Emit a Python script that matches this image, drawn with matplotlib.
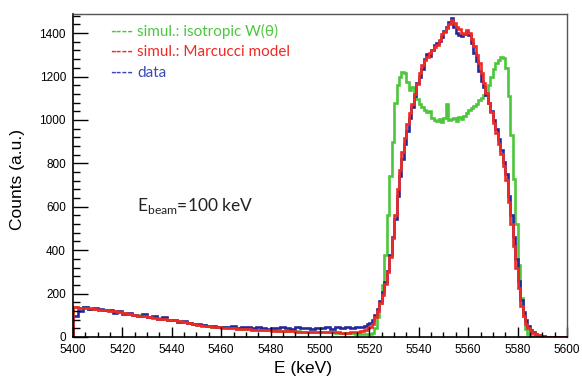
import numpy as np
import matplotlib
matplotlib.use('Agg')
import matplotlib.pyplot as plt
from matplotlib.ticker import MultipleLocator

# bin edges: 2 keV in the tail, 1 keV across the peak, 2 keV after it
edges = np.concatenate([np.arange(5400, 5516, 2),
                        np.arange(5516, 5592, 1),
                        np.arange(5592, 5601, 2)])

# counts
data_counts = [
    # 5400-5516, 2 keV bins
    95, 120, 140, 128, 135, 130, 122, 126, 112, 118,
    105, 112, 100, 95, 108, 92, 96, 84, 90, 78,
    80, 70, 75, 66, 58, 62, 55, 50, 52, 46,
    48, 44, 50, 42, 46, 44, 40, 45, 42, 38,
    42, 40, 45, 41, 38, 44, 40, 43, 38, 42,
    40, 44, 39, 45, 42, 46, 43, 48,
    # 5516-5592, 1 keV bins
    44, 48, 52, 58, 66, 78, 100, 128, 165, 205,
    255, 305, 380, 460, 545, 650, 740, 820, 890, 950,
    1010, 1060, 1110, 1170, 1200, 1235, 1280, 1305, 1295, 1320,
    1345, 1355, 1365, 1380, 1410, 1430, 1450, 1470, 1430, 1400,
    1390, 1385, 1395, 1405, 1390, 1355, 1310, 1270, 1225, 1180,
    1150, 1115, 1080, 1040, 1000, 960, 910, 860, 805, 750,
    650, 560, 460, 360, 260, 170, 115, 78, 50, 33,
    22, 14, 9, 5, 3, 2,
    # 5592-5600
    1, 1, 0, 0,
]

marcucci_counts = [
    138, 135, 132, 134, 128, 126, 124, 120, 118, 114,
    110, 106, 102, 98, 95, 92, 88, 85, 82, 79,
    76, 72, 68, 64, 60, 56, 52, 49, 47, 45,
    43, 41, 40, 38, 37, 35, 34, 33, 31, 30,
    29, 28, 28, 27, 26, 25, 25, 24, 24, 23,
    23, 22, 21, 21, 20, 20, 21, 23,
    26, 28, 33, 40, 48, 62, 90, 118, 155, 195,
    245, 300, 370, 455, 560, 680, 770, 850, 915, 980,
    1030, 1075, 1120, 1165, 1215, 1255, 1275, 1290, 1310, 1320,
    1335, 1345, 1370, 1395, 1405, 1425, 1440, 1460, 1445, 1430,
    1420, 1400, 1395, 1415, 1400, 1375, 1340, 1300, 1260, 1215,
    1170, 1125, 1080, 1035, 985, 940, 890, 845, 790, 725,
    620, 520, 420, 320, 225, 145, 95, 62, 42, 28,
    18, 13, 8, 5, 3, 2,
    1, 1, 1, 1,
]

isotropic_counts = [
    140, 134, 136, 130, 131, 125, 126, 121, 119, 115,
    111, 108, 103, 100, 96, 93, 90, 86, 83, 80,
    77, 73, 69, 65, 61, 57, 53, 50, 48, 46,
    44, 42, 40, 39, 37, 36, 34, 33, 32, 31,
    30, 29, 28, 27, 27, 26, 25, 25, 24, 23,
    23, 22, 21, 20, 19, 18, 17, 15,
    14, 13, 12, 12, 12, 18, 40, 90, 155, 240,
    380, 560, 740, 900, 1080, 1160, 1200, 1220, 1215, 1175,
    1140, 1150, 1110, 1095, 1075, 1060, 1045, 1035, 1040, 1010,
    1000, 995, 1005, 990, 1010, 1075, 1000, 1005, 1010, 995,
    1015, 1005, 1020, 1030, 1045, 1055, 1065, 1075, 1090, 1100,
    1115, 1125, 1160, 1200, 1235, 1260, 1275, 1290, 1285, 1240,
    1110, 930, 730, 520, 330, 180, 95, 38, 14, 5,
    2, 1, 0, 0, 0, 0,
    0, 0, 0, 0,
]

legend_labels = ['simul.: isotropic W(\u03b8)', 'simul.: Marcucci model', 'data']

green = '#4cc63c'
red = '#ee2a24'
blue = '#26289a'

plt.rcParams['font.family'] = ['Liberation Sans', 'DejaVu Sans']
plt.rcParams['mathtext.fontset'] = 'custom'
plt.rcParams['mathtext.rm'] = 'Lato'

fig = plt.figure(figsize=(5.82, 3.86), dpi=100)
ax = fig.add_axes([0.1254, 0.127, 0.8488, 0.8367])

ax.stairs(isotropic_counts, edges, color=green, lw=1.9)
ax.stairs(data_counts, edges, color=blue, lw=1.9)
ax.stairs(marcucci_counts, edges, color=red, lw=1.9)

ax.set_xlim(5400, 5600)
ax.set_ylim(0, 1488)
ax.xaxis.set_major_locator(MultipleLocator(20))
ax.xaxis.set_minor_locator(MultipleLocator(5))
ax.yaxis.set_major_locator(MultipleLocator(200))
ax.yaxis.set_minor_locator(MultipleLocator(40))
ax.tick_params(axis='x', which='major', direction='in', length=7, width=1, labelsize=8.5, pad=5)
ax.tick_params(axis='x', which='minor', direction='in', length=3.5, width=1)
ax.tick_params(axis='y', which='major', direction='in', length=10.5, width=1, labelsize=8.5, pad=5)
ax.tick_params(axis='y', which='minor', direction='in', length=5.3, width=1)
for side in ['left', 'bottom']:
    ax.spines[side].set_linewidth(1.2)
for side in ['right', 'top']:
    ax.spines[side].set_linewidth(1.0)
    ax.spines[side].set_color('#555555')

# axis titles sit where the picture has them (x title left of centre)
fig.text(303 / 582, 1 - 369 / 386, 'E (keV)', fontsize=12.5, ha='center', va='center')
fig.text(18 / 582, 1 - 179 / 386, 'Counts (a.u.)', fontsize=12.5, ha='center', va='center',
         rotation=90)

# legend as coloured text lines, the way the picture has it
ys = [36, 56, 77]
for lab, col, yp in zip(legend_labels, [green, red, '#3a4ab4'], ys):
    fig.text(110 / 582, 1 - yp / 386, '----', color=col, fontsize=11, fontweight='bold',
             family=['Lato', 'DejaVu Sans'], va='baseline', ha='left')
    fig.text(137 / 582, 1 - yp / 386, lab, color=col, fontsize=11,
             family=['Lato', 'DejaVu Sans'], va='baseline', ha='left')

fig.text(137 / 582, 1 - 211 / 386, r'$\mathrm{E}_{\mathrm{beam}}$=100 keV', fontsize=12.5,
         family=['Lato', 'DejaVu Sans'], va='baseline', ha='left', color='#222222')

fig.savefig('out.png', dpi=100)
